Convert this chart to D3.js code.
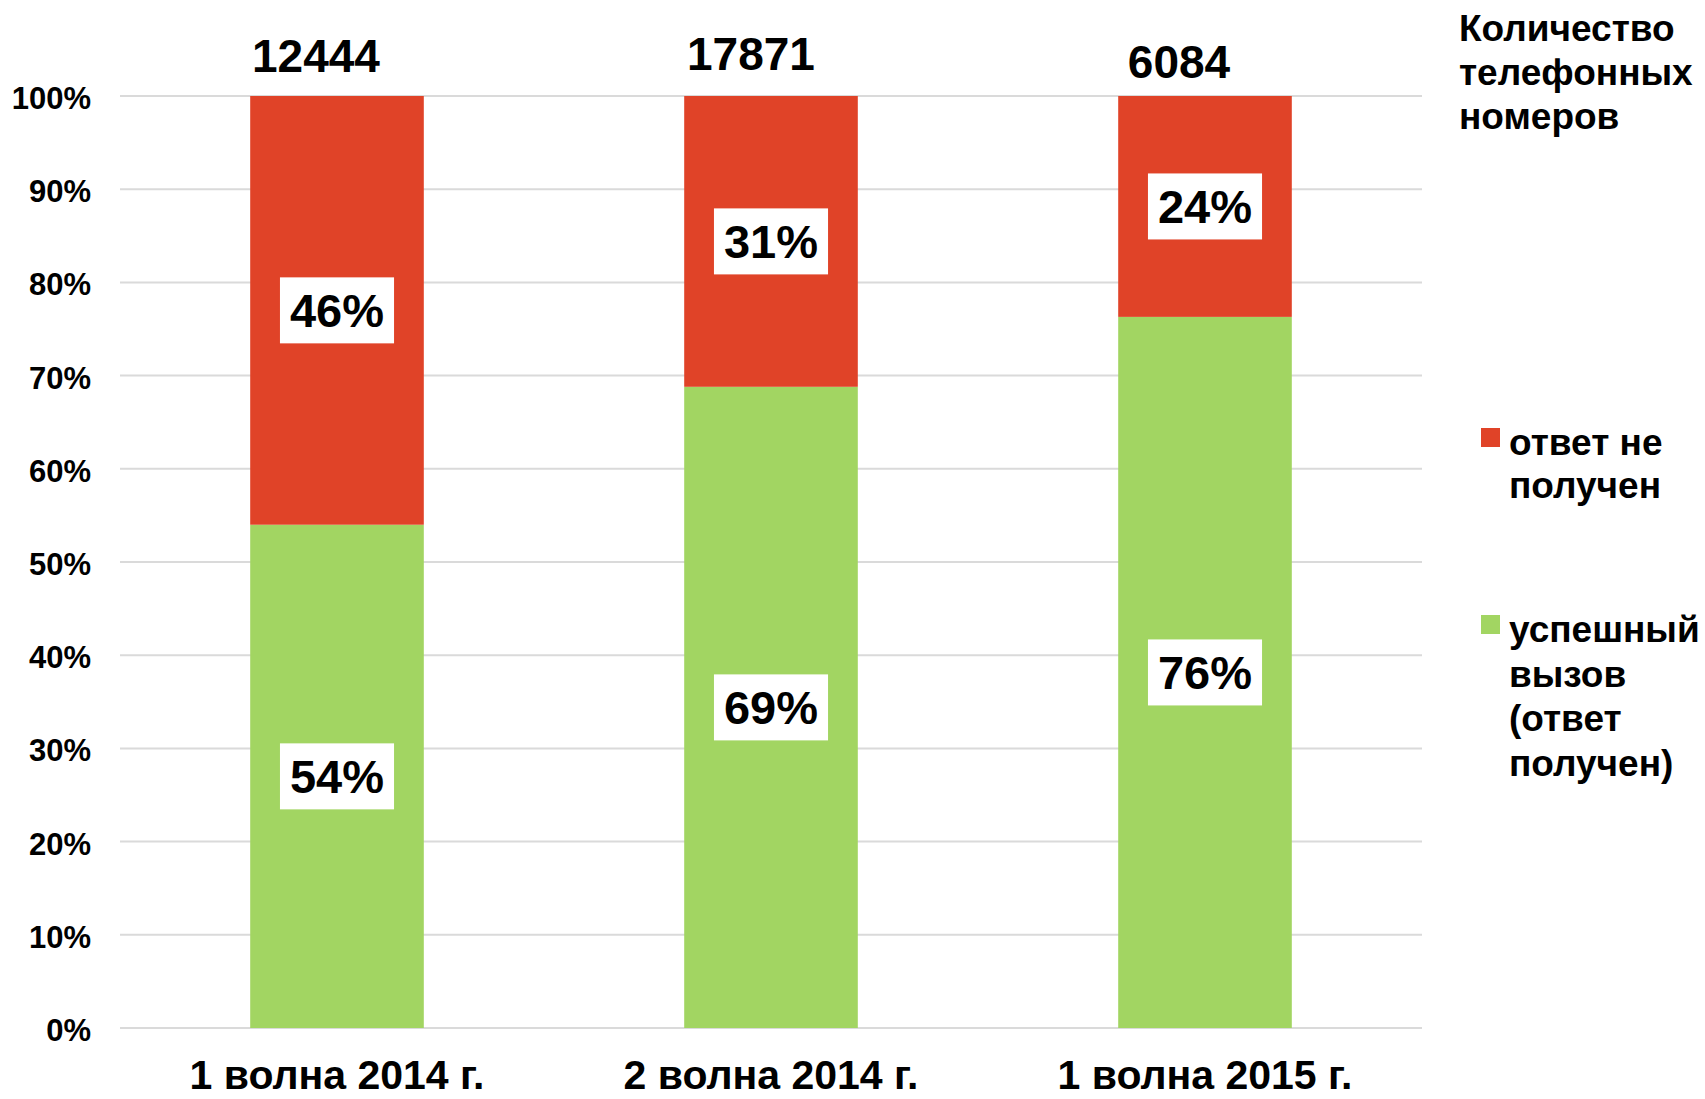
<!DOCTYPE html>
<html>
<head>
<meta charset="utf-8">
<script src="https://cdn.jsdelivr.net/npm/d3@7"></script>
<style>
  html, body { margin: 0; padding: 0; background: #fff; }
  svg { display: block; font-family: "Liberation Sans", Arial, Helvetica, sans-serif; font-weight: bold; }
</style>
</head>
<body>
<svg id="chart" width="1705" height="1099"></svg>
<script>
// ---- data ----
const categories = ["1 волна 2014 г.", "2 волна 2014 г.", "1 волна 2015 г."];
const successPct = [54.0, 68.8, 76.3];   // успешный вызов (ответ получен)
const failPct = [46.0, 31.2, 23.7];      // ответ не получен
const totals = [12444, 17871, 6084];
const yTicks = [0, 10, 20, 30, 40, 50, 60, 70, 80, 90, 100];
const seriesKeys = ["success", "fail"];
const legendTitleLines = ["Количество", "телефонных", "номеров"];
const legendItemLines = [["ответ не", "получен"], ["успешный", "вызов", "(ответ", "получен)"]];

// ---- styles / layout ----
const colors = { success: "#a2d562", fail: "#e04328" };
const totalOffsets = [[-21, 72], [-20, 70], [-26, 78]]; // [dx from bar centre, baseline y]

const svg = d3.select("#chart");
const plot = { left: 120, right: 1422, top: 96, bottom: 1028 };

const x = d3.scaleBand().domain(categories).range([plot.left, plot.right])
  .paddingInner(0.6).paddingOuter(0.3);
const y = d3.scaleLinear().domain([0, 100]).range([plot.bottom, plot.top]);

// gridlines
svg.append("g").selectAll("line").data(yTicks).join("line")
  .attr("x1", plot.left).attr("x2", plot.right)
  .attr("y1", d => y(d)).attr("y2", d => y(d))
  .attr("stroke", "#dadada").attr("stroke-width", 2);

// y axis
const yAxis = svg.append("g").attr("transform", `translate(${plot.left},0)`)
  .call(d3.axisLeft(y).tickValues(yTicks).tickFormat(d => d + "%").tickSize(0).tickPadding(29));
yAxis.select(".domain").remove();
yAxis.selectAll("text").attr("font-size", 31).attr("font-family", null).attr("font-weight", "bold")
  .attr("fill", "#000").attr("dy", "0.4em");

// x axis
const xAxis = svg.append("g").attr("transform", `translate(0,${plot.bottom})`)
  .call(d3.axisBottom(x).tickSize(0).tickPadding(32));
xAxis.select(".domain").remove();
xAxis.selectAll("text").attr("font-size", 41).attr("font-family", null).attr("font-weight", "bold")
  .attr("fill", "#000");

// stacked data
const rows = categories.map((c, i) => ({ cat: c, success: successPct[i], fail: failPct[i] }));
const stack = d3.stack().keys(seriesKeys)(rows);

const layers = svg.append("g").selectAll("g").data(stack).join("g")
  .attr("fill", d => colors[d.key]);
layers.selectAll("rect").data(d => d).join("rect")
  .attr("x", d => x(d.data.cat))
  .attr("width", x.bandwidth())
  .attr("y", d => y(d[1]))
  .attr("height", d => y(d[0]) - y(d[1]));

// value labels with white boxes
const labelG = svg.append("g");
stack.forEach(layer => {
  layer.forEach(d => {
    const cx = x(d.data.cat) + x.bandwidth() / 2;
    const cy = y((d[0] + d[1]) / 2);
    const g = labelG.append("g");
    const rect = g.append("rect").attr("fill", "#fff");
    const t = g.append("text")
      .attr("x", cx).attr("y", cy).attr("dy", "0.36em")
      .attr("text-anchor", "middle").attr("font-size", 47).attr("font-weight", "bold")
      .attr("fill", "#000")
      .text(Math.round(d.data[layer.key]) + "%");
    const w = t.node().getComputedTextLength() + 20;
    rect.attr("x", cx - w / 2).attr("y", cy - 33).attr("width", w).attr("height", 66);
  });
});

// totals above bars
svg.append("g").selectAll("text").data(totals).join("text")
  .attr("x", (d, i) => x(categories[i]) + x.bandwidth() / 2 + totalOffsets[i][0])
  .attr("y", (d, i) => totalOffsets[i][1])
  .attr("text-anchor", "middle").attr("font-size", 46).attr("font-weight", "bold")
  .attr("fill", "#000")
  .text(d => d);

// legend title
svg.append("text").attr("x", 1459).attr("y", 41).attr("font-size", 37).attr("fill", "#000")
  .selectAll("tspan").data(legendTitleLines).join("tspan")
  .attr("x", 1459).attr("dy", (d, i) => i === 0 ? 0 : 44).text(d => d);

// legend items (fail first, then success)
const legendKeys = ["fail", "success"];
const legendTop = [455, 642];
const legendSpacing = [43, 44.5];
legendKeys.forEach((k, i) => {
  const g = svg.append("g");
  g.append("rect").attr("x", 1481).attr("y", legendTop[i] - 27).attr("width", 19).attr("height", 19)
    .attr("fill", colors[k]);
  g.append("text").attr("x", 1509).attr("y", legendTop[i]).attr("font-size", 37).attr("fill", "#000")
    .selectAll("tspan").data(legendItemLines[i]).join("tspan")
    .attr("x", 1509).attr("dy", (d, j) => j === 0 ? 0 : legendSpacing[i]).text(d => d);
});
</script>
</body>
</html>
